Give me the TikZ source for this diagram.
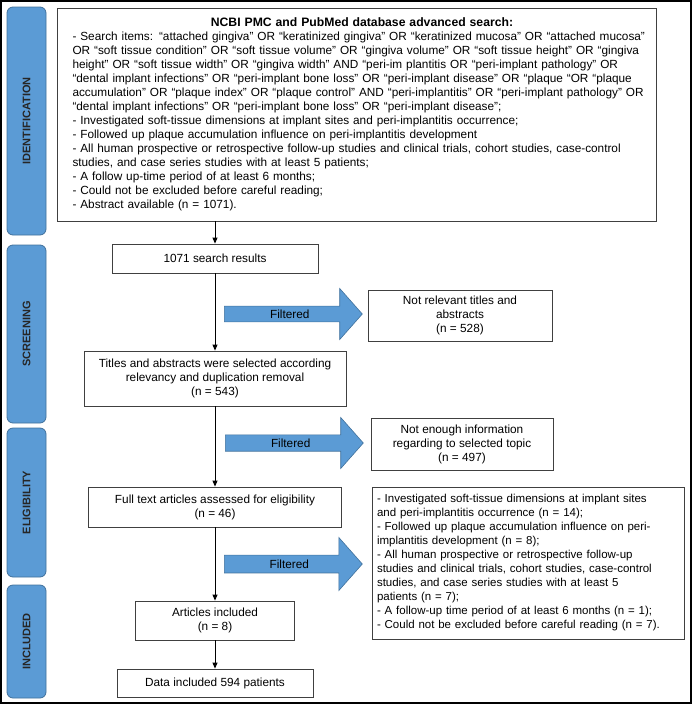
\documentclass[tikz,border=0pt]{standalone}
\usepackage{fontspec}
\setmainfont{Liberation Sans}
\usetikzlibrary{shapes.arrows,arrows.meta}
\definecolor{stageblue}{RGB}{91,155,213}
\definecolor{stageline}{RGB}{65,113,156}
\begin{document}
\begin{tikzpicture}[x=1pt,y=-1pt,
    every node/.style={font=\fontsize{11.8}{14}\selectfont},
    box/.style={draw=black!75,line width=0.8pt,align=center,inner sep=2pt},
    stage/.style={draw=stageline,fill=stageblue,rounded corners=6pt,rotate=90,
      minimum height=39pt,font=\fontsize{11}{13}\selectfont\bfseries,text=black!85,line width=0.8pt},
    filt/.style={single arrow,fill=stageblue,draw=stageline,line width=0.6pt,minimum width=51pt,
      minimum height=138pt,single arrow tip angle=97,inner sep=2pt},
    flow/.style={-{Triangle[length=6pt,width=5pt]},line width=1pt}]
  \useasboundingbox (0,0) rectangle (693,705);
  \draw[line width=1.5pt] (1,1) rectangle (691,703);
  \node[stage,minimum width=228pt] (ident) at (26.5,121) {IDENTIFICATION};
  \node[stage,minimum width=178pt] (screen) at (26.5,334) {SCREENING};
  \node[stage,minimum width=149pt] (elig) at (26.5,502.5) {ELIGIBILITY};
  \node[stage,minimum width=113pt] (incl) at (26.5,641.5) {INCLUDED};
  \node[box,minimum width=599pt,minimum height=213pt,text width=590pt,inner xsep=4.5pt,align=left]
    (search) at (356.5,114.5) {\leftskip=11pt
    \makebox[\dimexpr\linewidth-11pt\relax][c]{\fontsize{12.2}{14}\selectfont\bfseries NCBI PMC and PubMed database advanced search:}\\
    - Search items: “attached gingiva” OR “keratinized gingiva” OR “keratinized mucosa” OR “attached mucosa”\\
    OR “soft tissue condition” OR “soft tissue volume” OR “gingiva volume” OR “soft tissue height” OR “gingiva\\
    height” OR “soft tissue width” OR “gingiva width” AND “peri-im plantitis OR “peri-implant pathology” OR\\
    “dental implant infections” OR “peri-implant bone loss” OR “peri-implant disease” OR “plaque “OR “plaque\\
    accumulation” OR “plaque index” OR “plaque control” AND “peri-implantitis” OR “peri-implant pathology” OR\\
    “dental implant infections” OR “peri-implant bone loss” OR “peri-implant disease”;\\
    - Investigated soft-tissue dimensions at implant sites and peri-implantitis occurrence;\\
    - Followed up plaque accumulation influence on peri-implantitis development\\
    - All human prospective or retrospective follow-up studies and clinical trials, cohort studies, case-control\\
    studies, and case series studies with at least 5 patients;\\
    - A follow up-time period of at least 6 months;\\
    - Could not be excluded before careful reading;\\
    - Abstract available (n = 1071).\par};
  \node[box,minimum width=206pt,minimum height=29pt] (res1071) at (215,258.5) {1071 search results};
  \node[box,minimum width=262pt,minimum height=55pt] (sel543) at (215,378.5)
    {Titles and abstracts were selected according\\relevancy and duplication removal\\(n = 543)};
  \node[box,minimum width=184pt,minimum height=51pt] (ex528) at (460,315.5)
    {Not relevant titles and\\abstracts\\(n = 528)};
  \node[box,minimum width=182pt,minimum height=52pt] (ex497) at (462,444)
    {Not enough information\\regarding to selected topic\\(n = 497)};
  \node[box,minimum width=253pt,minimum height=40pt] (full46) at (215,507)
    {Full text articles assessed for eligibility\\(n = 46)};
  \node[box,minimum width=312pt,minimum height=152pt,text width=302pt,inner xsep=5pt,align=left,
    font=\fontsize{11.5}{14}\selectfont]
    (exlist) at (528,563) {- Investigated soft-tissue dimensions at implant sites\\
    and peri-implantitis occurrence (n = 14);\\
    - Followed up plaque accumulation influence on peri-\\
    implantitis development (n = 8);\\
    - All human prospective or retrospective follow-up\\
    studies and clinical trials, cohort studies, case-control\\
    studies, and case series studies with at least 5\\
    patients (n = 7);\\
    - A follow-up time period of at least 6 months (n = 1);\\
    - Could not be excluded before careful reading (n = 7).};
  \node[box,minimum width=159pt,minimum height=39pt] (inc8) at (215,620.5) {Articles included\\(n = 8)};
  \node[box,minimum width=196pt,minimum height=28pt] (data594) at (215,683) {Data included 594 patients};
  \node[filt,single arrow head extend=15pt,anchor=tail] (filt1) at (224,314) {Filtered};
  \node[filt,single arrow head extend=14pt,anchor=tail] (filt2) at (225,443) {Filtered};
  \node[filt,minimum width=53pt,single arrow head extend=13pt,anchor=tail] (filt3) at (224,564) {Filtered};
  \draw[flow] (search.south -| res1071) -- (res1071);
  \draw[flow] (res1071) -- (sel543);
  \draw[flow] (sel543) -- (full46);
  \draw[flow] (full46) -- (inc8);
  \draw[flow] (inc8) -- (data594);
\end{tikzpicture}
\end{document}
